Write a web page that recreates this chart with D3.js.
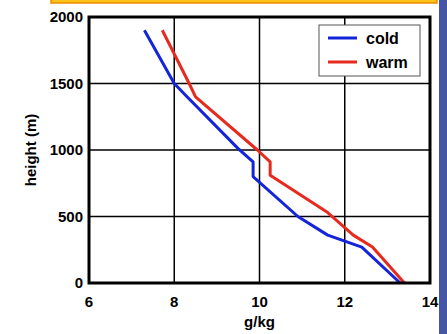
<!DOCTYPE html>
<html>
<head>
<meta charset="utf-8">
<script src="https://cdn.jsdelivr.net/npm/d3@7"></script>
<style>
body { margin: 0; background: #fff; }
text { font-family: "Liberation Sans", Arial, sans-serif; font-weight: bold; }
</style>
</head>
<body>
<svg id="chart" width="447" height="334"></svg>
<script>
// mixing ratio profiles (g/kg vs height m)
var coldX = [7.3, 8.0, 8.3, 9.5, 9.85, 9.85, 10.9, 11.6, 11.95, 12.4, 13.3];
var coldY = [1900, 1500, 1400, 1010, 910, 800, 500, 360, 320, 270, 0];
var warmX = [7.72, 8.35, 8.5, 9.95, 10.25, 10.25, 11.6, 12.2, 12.65, 13.4];
var warmY = [1900, 1500, 1400, 1000, 910, 810, 530, 360, 270, 0];
var xTicks = [6, 8, 10, 12, 14];
var yTicks = [0, 500, 1000, 1500, 2000];
var seriesNames = ["cold", "warm"];
var seriesColors = ["#1424d8", "#e62a1e"];

var svg = d3.select("#chart");
var pLeft = 89, pRight = 430, pTop = 17, pBottom = 283;

var x = d3.scaleLinear().domain([6, 14]).range([pLeft, pRight]);
var y = d3.scaleLinear().domain([0, 2000]).range([pBottom, pTop]);

// background bits from the slide
svg.append("rect").attr("x", 439).attr("y", 0).attr("width", 8).attr("height", 334).style("fill", "#4656a6");
svg.append("rect").attr("x", 51).attr("y", -4).attr("width", 386).attr("height", 7)
	.style("fill", "#ffc21a").style("stroke", "#f08a00").style("stroke-width", 1.5);

// grid
svg.selectAll(".vgrid").data(xTicks.slice(1, -1)).enter().append("line")
	.attr("x1", function(d){ return x(d); }).attr("x2", function(d){ return x(d); })
	.attr("y1", pTop).attr("y2", pBottom)
	.style("stroke", "#000").style("stroke-width", 1.5);
svg.selectAll(".hgrid").data(yTicks.slice(1, -1)).enter().append("line")
	.attr("y1", function(d){ return y(d); }).attr("y2", function(d){ return y(d); })
	.attr("x1", pLeft).attr("x2", pRight)
	.style("stroke", "#000").style("stroke-width", 1.5);

// tick labels
svg.selectAll(".xlab").data(xTicks).enter().append("text")
	.attr("x", function(d){ return x(d); }).attr("y", 307)
	.attr("text-anchor", "middle").style("font-size", "15px")
	.text(function(d){ return d; });
svg.selectAll(".ylab").data(yTicks).enter().append("text")
	.attr("x", 83).attr("y", function(d){ return y(d) + 5; })
	.attr("text-anchor", "end").style("font-size", "15px")
	.text(function(d){ return d; });

svg.append("text").attr("x", (pLeft + pRight) / 2).attr("y", 327)
	.attr("text-anchor", "middle").style("font-size", "15px").text("g/kg");
svg.append("text").attr("transform", "translate(36," + (pTop + pBottom) / 2 + ") rotate(-90)")
	.attr("text-anchor", "middle").style("font-size", "15px").text("height (m)");

// lines
var line = d3.line().x(function(d){ return x(d[0]); }).y(function(d){ return y(d[1]); });
var series = [d3.zip(coldX, coldY), d3.zip(warmX, warmY)];
svg.selectAll(".profile").data(series).enter().append("path")
	.attr("d", line)
	.style("fill", "none")
	.style("stroke", function(d, i){ return seriesColors[i]; })
	.style("stroke-width", 3)
	.style("stroke-linejoin", "round");

// frame
svg.append("rect").attr("x", pLeft).attr("y", pTop).attr("width", pRight - pLeft).attr("height", pBottom - pTop)
	.style("fill", "none").style("stroke", "#000").style("stroke-width", 3);

// legend
var lg = svg.append("g").attr("transform", "translate(319,25)");
lg.append("rect").attr("width", 101).attr("height", 51)
	.style("fill", "#fff").style("stroke", "#555").style("stroke-width", 1);
var item = lg.selectAll(".legend").data(seriesNames).enter().append("g")
	.attr("transform", function(d, i){ return "translate(0," + (13 + i * 24) + ")"; });
item.append("line").attr("x1", 9).attr("x2", 38)
	.style("stroke", function(d, i){ return seriesColors[i]; }).style("stroke-width", 3);
item.append("text").attr("x", 47).attr("y", 6).style("font-size", "16px")
	.text(function(d){ return d; });
</script>
</body>
</html>
